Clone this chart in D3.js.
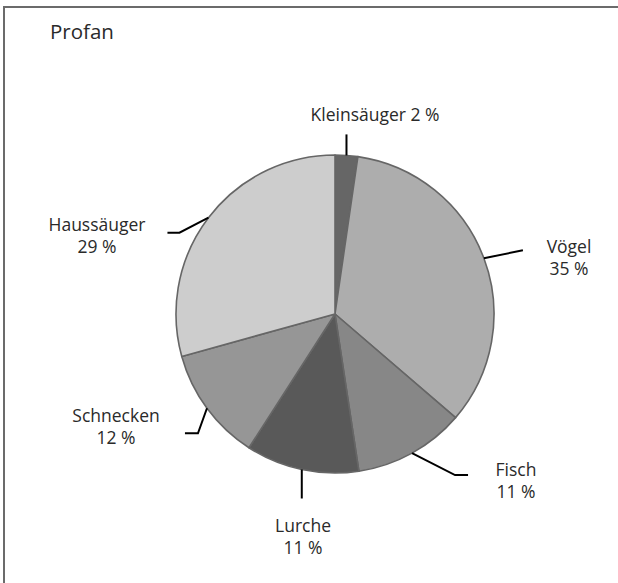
<!DOCTYPE html>
<html lang="de">
  <head>
    <meta charset="UTF-8" />
    <title>Profan</title>
    <style>
      body {
        margin: 0;
        background: #fff;
        font-family: "Open Sans", sans-serif;
      }
      .label {
        font-size: 17.5px;
        fill: #2a2a2a;
      }
      .leader {
        fill: none;
        stroke: #000;
        stroke-width: 2px;
      }
    </style>
  </head>
  <body>
    <div id="chart"></div>
    <script src="https://d3js.org/d3.v7.min.js"></script>
    <script>
      // slices, clockwise from 12 o'clock
      const categories = ["Kleinsäuger", "Vögel", "Fisch", "Lurche", "Schnecken", "Haussäuger"];
      const shares = [2.3, 34.0, 11.3, 11.5, 11.6, 29.3];
      const percentLabels = ["2 %", "35 %", "11 %", "11 %", "12 %", "29 %"];
      const colors = ["#666666", "#adadad", "#878787", "#595959", "#969696", "#cdcdcd"];

      const width = 618, height = 583;
      const cx = 335, cy = 314, radius = 159;

      // leader line bends (relative to the arc point) and label anchors
      const leaderBends = [
        [[0, -21]],
        [[39, -8]],
        [[43, 22], [56, 22]],
        [[0, 29]],
        [[-9, 25], [-22, 25]],
        [[-29, 15], [-41, 15]]
      ];
      const labelPos = [[375, 121], [569, 253], [516, 476], [303, 532], [116, 422], [97, 231]];

      const svg = d3.select("#chart")
        .append("svg")
        .attr("width", width)
        .attr("height", height);

      // frame: top and left edge only
      svg.append("path")
        .attr("d", `M4,${height} L4,7 L${width},7`)
        .attr("fill", "none")
        .attr("stroke", "#6b6b6b")
        .attr("stroke-width", 2);

      svg.append("text")
        .attr("x", 50)
        .attr("y", 39)
        .attr("font-size", 20.5)
        .attr("fill", "#2a2a2a")
        .text("Profan");

      const pie = d3.pie().sort(null).value(d => d);
      const arcs = pie(shares);
      const arc = d3.arc().innerRadius(0).outerRadius(radius);

      const g = svg.append("g").attr("transform", `translate(${cx},${cy})`);

      g.selectAll("path")
        .data(arcs)
        .enter().append("path")
        .attr("d", arc)
        .attr("fill", (d, i) => colors[i])
        .attr("stroke", "#666")
        .attr("stroke-width", 1.6)
        .attr("stroke-linejoin", "round");

      // leader lines from the middle of each slice's outer edge
      arcs.forEach((d, i) => {
        const mid = (d.startAngle + d.endAngle) / 2;
        const x0 = cx + radius * Math.sin(mid);
        const y0 = cy - radius * Math.cos(mid);
        const pts = [[x0, y0]].concat(leaderBends[i].map(p => [x0 + p[0], y0 + p[1]]));
        svg.append("path")
          .attr("class", "leader")
          .attr("d", d3.line()(pts));
      });

      categories.forEach((c, i) => {
        const t = svg.append("text")
          .attr("class", "label")
          .attr("text-anchor", "middle")
          .attr("x", labelPos[i][0])
          .attr("y", labelPos[i][1]);
        if (i === 0) {
          t.text(c + " " + percentLabels[i]);
        } else {
          t.append("tspan").attr("x", labelPos[i][0]).text(c);
          t.append("tspan").attr("x", labelPos[i][0]).attr("dy", 22).text(percentLabels[i]);
        }
      });
    </script>
  </body>
</html>
